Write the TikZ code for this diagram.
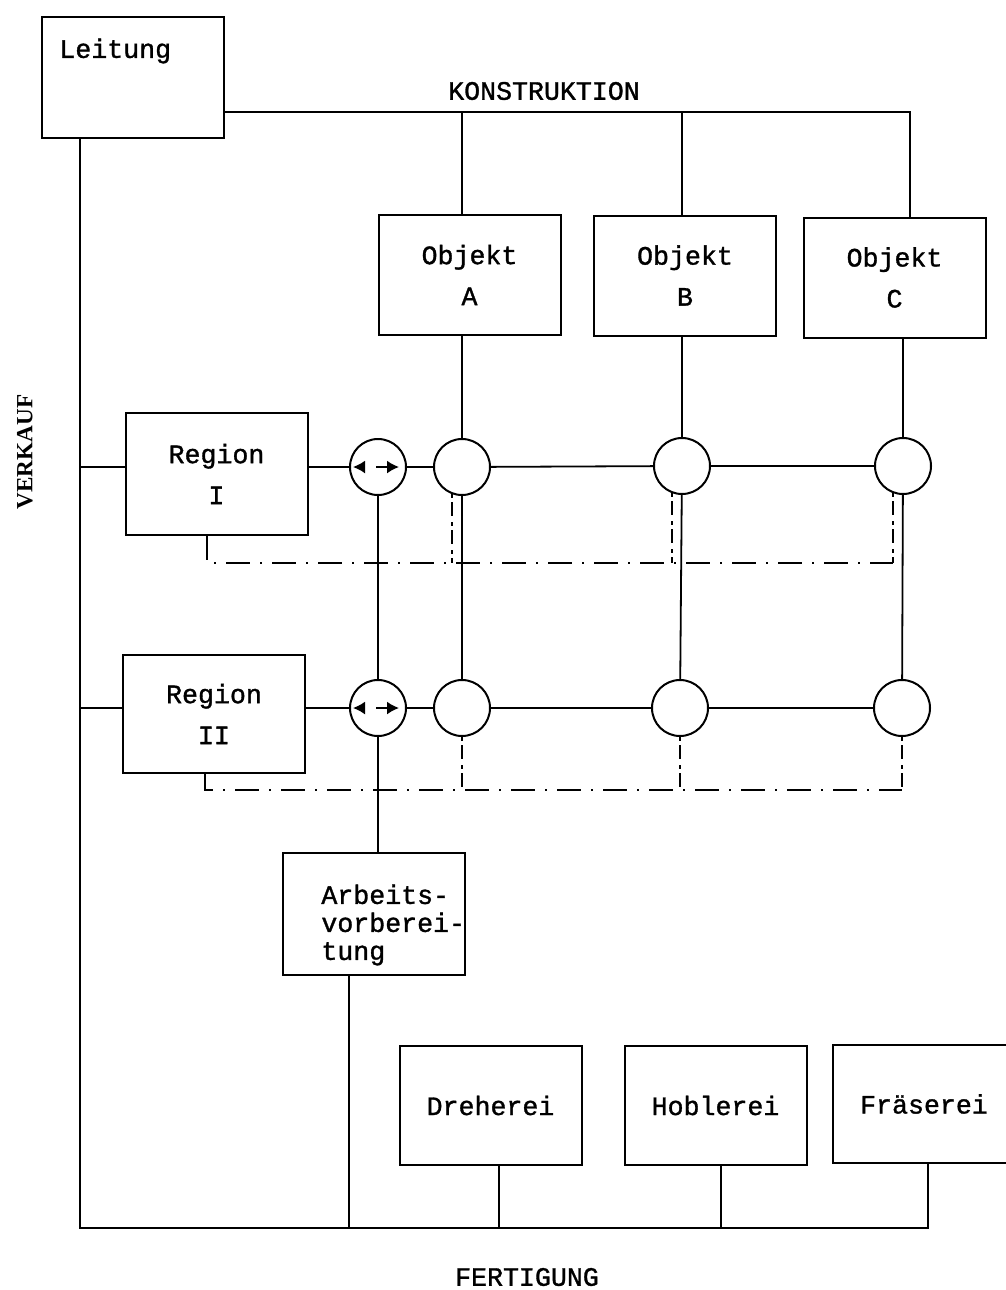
\documentclass[tikz,border=0pt]{standalone}
\usepackage{fontspec}
\usetikzlibrary{arrows.meta, positioning}
\newfontfamily\typefont[FakeBold=1.2]{Liberation Mono}
\newfontfamily\capfont{Liberation Serif}
\newcommand{\boxfont}{\typefont\fontsize{13.3}{20.5}\selectfont}
\newcommand{\avbfont}{\typefont\fontsize{13.3}{14}\selectfont}
\tikzset{
  orgbox/.style={rectangle, draw=black, line width=1pt, minimum width=91pt, minimum height=60pt, inner sep=0pt, align=center, font=\boxfont},
  knot/.style={circle, draw=black, line width=1pt, minimum size=28pt, inner sep=0pt},
  orgline/.style={line width=0.9pt},
  linkdash/.style={line width=0.9pt, dash pattern=on 12pt off 5pt on 1pt off 5pt},
  branchdash/.style={line width=0.9pt, dash pattern=on 2pt off 2pt on 7pt off 3pt},
  swarr/.style={line width=0.9pt, {Latex[length=6pt,width=6.5pt]}-{Latex[length=6pt,width=6.5pt]}, dash pattern=on 0pt off 6pt on 12pt},
}

\begin{document}
\begin{tikzpicture}[x=0.5pt, y=-0.5pt]
\useasboundingbox (0,0) rectangle (1006,1290);
% Kästen
\node[orgbox, minimum height=60.5pt, label={[anchor=west, inner sep=0pt, font=\boxfont, xshift=9pt, yshift=-17.5pt]north west:Leitung}] (leitung) at (133,77.5) {};
\node[orgbox] (objA) at (469.5,275) {Objekt\\A};
\node[orgbox] (objB) at (685,275.5) {Objekt\\B};
\node[orgbox] (objC) at (894.5,277.5) {Objekt\\C};
\node[orgbox, minimum height=61pt] (regI) at (216.5,474) {Region\\I};
\node[orgbox, minimum height=59pt] (regII) at (214,714) {Region\\II};
\node[orgbox, minimum height=61pt, label={[anchor=west, inner sep=0pt, align=left, font=\avbfont, xshift=19.5pt, yshift=-5.5pt]west:Arbeits-\\vorberei-\\tung}] (avb) at (374,914) {};
\node[orgbox, minimum height=59.5pt] (dreh) at (490.5,1105.5) {Dreherei};
\node[orgbox, minimum height=59.5pt] (hobl) at (715.5,1105.5) {Hoblerei};
\node[orgbox, minimum height=59pt] (fraes) at (924,1104) {Fräserei};
% Knoten
\node[knot] (sw1) at (378,467) {};
\node[knot] (kA1) at (462,467) {};
\node[knot] (kB1) at (682,466) {};
\node[knot] (kC1) at (903,466) {};
\node[knot] (sw2) at (378,708) {};
\node[knot] (kA2) at (462,708) {};
\node[knot] (kB2) at (680,708) {};
\node[knot] (kC2) at (902,708) {};
% Beschriftung
\node[font=\boxfont] (konstr) at (544,91) {KONSTRUKTION};
\node[font=\boxfont] (fert) at (527,1277) {FERTIGUNG};
\node[font=\capfont\bfseries\fontsize{11.6}{14}\selectfont, rotate=90] (verkauf) at (25,452) {VERKAUF};
% Leitungen
\coordinate (kbus) at (910,112);
\coordinate (vk) at (80,1228);
\coordinate (fk) at (928,1228);
\coordinate (avbfoot) at (349,1228);
\coordinate (drehfoot) at (499,1228);
\coordinate (hoblfoot) at (721,1228);
\draw[orgline] (leitung.east |- kbus) -- (kbus) -- (kbus |- objC.north);
\foreach \k/\o in {kA1/objA, kB1/objB} \draw[orgline] (\k |- kbus) -- (\k |- \o.north);
\foreach \k/\o in {kA1/objA, kB1/objB, kC1/objC} \draw[orgline] (\k |- \o.south) -- (\k);
\draw[orgline] (leitung.south -| vk) -- (vk) -- (fk) -- (fk |- fraes.south);
\draw[orgline] (vk |- sw1) -- (regI.west |- sw1);
\draw[orgline] (vk |- sw2) -- (regII.west |- sw2);
\draw[orgline] (regI.east |- sw1) -- (sw1);
\draw[orgline] (regII.east |- sw2) -- (sw2);
\foreach \x/\y in {sw1/kA1, kA1/kB1, kB1/kC1, sw2/kA2, kA2/kB2, kB2/kC2, sw1/sw2, kA1/kA2, kB1/kB2, kC1/kC2} \draw[orgline] (\x) -- (\y);
\draw[orgline] (sw2) -- (sw2 |- avb.north);
\foreach \b/\f in {avb/avbfoot, dreh/drehfoot, hobl/hoblfoot} \draw[orgline] (\f |- \b.south) -- (\f);
% gestrichelte Verbindungen
\coordinate (dI) at (207,563);
\coordinate (dII) at (205,790);
\draw[linkdash] (regI.south -| dI) -- (dI) -- (dI -| kC1.-111);
\draw[linkdash] (regII.south -| dII) -- (dII) -- (dII -| kC2.south);
\foreach \k in {kA1, kB1, kC1} \draw[branchdash] (\k.-111) -- (\k.-111 |- dI);
\foreach \k in {kA2, kB2, kC2} \draw[branchdash] (\k.south) -- (\k.south |- dII);
\foreach \s in {sw1, sw2} \draw[swarr] ([xshift=-12.5pt]\s.center) -- ([xshift=10.5pt]\s.center);
\end{tikzpicture}
\end{document}
